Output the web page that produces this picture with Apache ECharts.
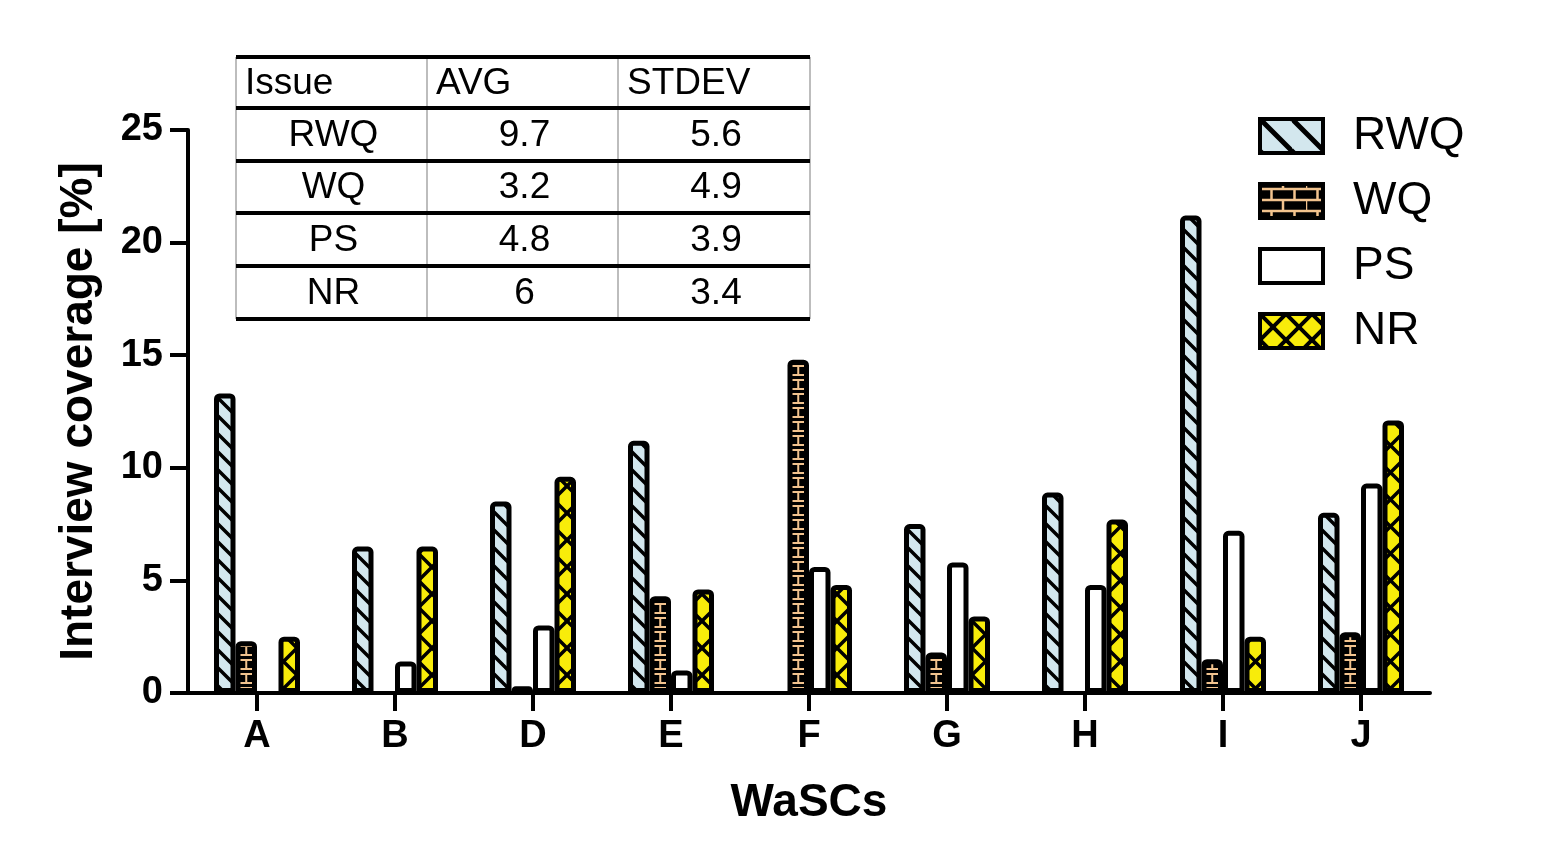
<!DOCTYPE html>
<html>
<head>
<meta charset="utf-8">
<script src="https://cdn.jsdelivr.net/npm/echarts@6/dist/echarts.min.js"></script>
<style>
html,body{margin:0;padding:0;background:#fff;}
#chart{width:1547px;height:862px;}
</style>
</head>
<body>
<div id="chart"></div>
<script>
// ---------- data ----------
const categories = ['A', 'B', 'D', 'E', 'F', 'G', 'H', 'I', 'J'];
const seriesNames = ['RWQ', 'WQ', 'PS', 'NR'];
const rwq = [13.3, 6.5, 8.5, 11.2, 0, 7.5, 8.9, 21.2, 8.0];
const wq  = [2.3, 0, 0.3, 4.3, 14.8, 1.8, 0, 1.5, 2.7];
const ps  = [0, 1.4, 3.0, 1.0, 5.6, 5.8, 4.8, 7.2, 9.3];
const nr  = [2.5, 6.5, 9.6, 4.6, 4.8, 3.4, 7.7, 2.5, 12.1];
const yTicks = [0, 5, 10, 15, 20, 25];

const tableHeader = ['Issue', 'AVG', 'STDEV'];
const tableIssues = ['RWQ', 'WQ', 'PS', 'NR'];
const tableAvg = ['9.7', '3.2', '4.8', '6'];
const tableStdev = ['5.6', '4.9', '3.9', '3.4'];

// ---------- layout ----------
const W = 1547, H = 862;
const FONT = '"Liberation Sans", Arial, Helvetica, sans-serif';
const GRID_LEFT = 188, GRID_RIGHT = 117, GRID_TOP = 130, GRID_BOTTOM = 169;
const BAR_W = 21.5, BAR_GAP = 0;
const TICK_LEN = 18;

// ---------- patterns ----------
function tile(w, h, draw) {
  const c = document.createElement('canvas');
  c.width = w; c.height = h;
  const ctx = c.getContext('2d');
  draw(ctx, w, h);
  return { image: c, repeat: 'repeat' };
}
function diag(ctx, s, dir) {
  ctx.beginPath();
  for (const k of [-1, 0, 1]) {
    if (dir === 'back') { ctx.moveTo(-1, k * s - 1); ctx.lineTo(s + 1, k * s + s + 1); }
    else { ctx.moveTo(-1, k * s + s + 1); ctx.lineTo(s + 1, k * s - 1); }
  }
  ctx.stroke();
}
function stripePattern(s, lw, bg) {
  return tile(s, s, (ctx) => {
    ctx.fillStyle = bg; ctx.fillRect(0, 0, s, s);
    ctx.strokeStyle = '#000'; ctx.lineWidth = lw; diag(ctx, s, 'back');
  });
}
function crossPattern(s, lw, bg) {
  return tile(s, s, (ctx) => {
    ctx.fillStyle = bg; ctx.fillRect(0, 0, s, s);
    ctx.strokeStyle = '#000'; ctx.lineWidth = lw;
    diag(ctx, s, 'back'); diag(ctx, s, 'fwd');
  });
}
const TAN = '#f2c38e';
const band = (W - GRID_LEFT - GRID_RIGHT) / categories.length;
const totalBars = 4 * BAR_W + 3 * BAR_W * BAR_GAP;
const wqCenter = GRID_LEFT + band / 2 - totalBars / 2 + BAR_W * (1 + BAR_GAP) + BAR_W / 2;
const stemX = ((wqCenter % band) + band) % band;
const wqBarPattern = tile(Math.round(band), 14, (ctx, w, h) => {
  ctx.fillStyle = '#000'; ctx.fillRect(0, 0, w, h);
  ctx.strokeStyle = TAN; ctx.lineWidth = 2;
  ctx.beginPath();
  ctx.moveTo(0, 2); ctx.lineTo(w, 2);
  ctx.moveTo(0, 11); ctx.lineTo(w, 11);
  ctx.moveTo(stemX, 2); ctx.lineTo(stemX, 11);
  ctx.stroke();
});
const wqLegendPattern = tile(46, 22, (ctx, w, h) => {
  ctx.fillStyle = '#000'; ctx.fillRect(0, 0, w, h);
  ctx.strokeStyle = TAN; ctx.lineWidth = 2.5;
  ctx.beginPath();
  ctx.moveTo(0, 5); ctx.lineTo(w, 5);
  ctx.moveTo(0, 16); ctx.lineTo(w, 16);
  ctx.moveTo(11.5, 5); ctx.lineTo(11.5, 16);
  ctx.moveTo(34.5, 5); ctx.lineTo(34.5, 16);
  ctx.moveTo(0, 16); ctx.lineTo(0, 27);
  ctx.moveTo(23, 16); ctx.lineTo(23, 27);
  ctx.moveTo(0, -6); ctx.lineTo(0, 5);
  ctx.moveTo(23, -6); ctx.lineTo(23, 5);
  ctx.stroke();
});
const BLUE = '#d3e7ee', YELLOW = '#f8ec0a';
const barColors = [stripePattern(18, 3.5, BLUE), wqBarPattern, '#ffffff', crossPattern(27, 3.5, YELLOW)];
const legendColors = [stripePattern(32, 5, BLUE), wqLegendPattern, '#ffffff', crossPattern(26, 4, YELLOW)];
const values = [rwq, wq, ps, nr];

// ---------- table graphic ----------
const tblX = [236, 427, 618, 810];
const tblY = [57, 108, 161, 213, 266, 319];
const tblFont = '37px ' + FONT;
const graphics = [];
for (let i = 0; i < tblX.length; i++) {
  graphics.push({ type: 'line', z: 10, shape: { x1: tblX[i], y1: tblY[0], x2: tblX[i], y2: tblY[tblY.length - 1] },
    style: { stroke: '#bdbdbd', lineWidth: 2 } });
}
for (let j = 0; j < tblY.length; j++) {
  graphics.push({ type: 'line', z: 11, shape: { x1: tblX[0], y1: tblY[j], x2: tblX[3], y2: tblY[j] },
    style: { stroke: '#000', lineWidth: 4 } });
}
tableHeader.forEach((t, i) => {
  graphics.push({ type: 'text', z: 12, style: { text: t, x: tblX[i] + 9, y: (tblY[0] + tblY[1]) / 2 + 1,
    font: tblFont, fill: '#000', align: 'left', verticalAlign: 'middle', textAlign: 'left', textVerticalAlign: 'middle' } });
});
const cols = [tableIssues, tableAvg, tableStdev];
for (let r = 0; r < tableIssues.length; r++) {
  for (let c = 0; c < 3; c++) {
    graphics.push({ type: 'text', z: 12, style: { text: cols[c][r], x: (tblX[c] + tblX[c + 1]) / 2 + 2,
      y: (tblY[r + 1] + tblY[r + 2]) / 2 + 1, font: tblFont, fill: '#000',
      align: 'center', verticalAlign: 'middle', textAlign: 'center', textVerticalAlign: 'middle' } });
  }
}
const axisY = H - GRID_BOTTOM;
// short extension of the x axis line to the left of the y axis (as in the reference)
graphics.push({ type: 'line', z: 5, shape: { x1: 170, y1: axisY, x2: GRID_LEFT, y2: axisY },
  style: { stroke: '#000', lineWidth: 4 } });

// ---------- chart ----------
const chart = echarts.init(document.getElementById('chart'), null, { renderer: 'canvas' });
const barSeries = seriesNames.map((n, i) => ({
  name: n, type: 'bar',
  data: values[i].map(v => (v === 0 ? null : v)),
  barWidth: BAR_W, barGap: (BAR_GAP * 100) + '%',
  itemStyle: { color: barColors[i], borderColor: '#000', borderWidth: 5, borderRadius: [3, 3, 0, 0] },
  emphasis: { disabled: true }
}));
// category tick marks hanging below the x axis, placed by the category scale
const tickSeries = {
  name: 'xticks', type: 'scatter', silent: true, clip: false, z: 50,
  data: categories.map(c => [c, 0]),
  symbol: 'rect', symbolSize: [4, TICK_LEN], symbolOffset: [0, TICK_LEN / 2],
  itemStyle: { color: '#000', opacity: 1 },
  emphasis: { disabled: true }, tooltip: { show: false }
};
const option = {
  backgroundColor: '#ffffff',
  animation: false,
  textStyle: { fontFamily: FONT },
  grid: { left: GRID_LEFT, right: GRID_RIGHT, top: GRID_TOP, bottom: GRID_BOTTOM, containLabel: false },
  legend: {
    orient: 'vertical', left: 1258, top: 113, padding: 0,
    itemWidth: 63, itemHeight: 34, itemGap: 19, icon: 'rect',
    itemStyle: { borderColor: '#000', borderWidth: 4 },
    textStyle: { fontSize: 46, color: '#000', fontFamily: FONT, padding: [0, 0, 0, 25] },
    data: seriesNames.map((n, i) => ({ name: n, itemStyle: { color: legendColors[i], borderColor: '#000', borderWidth: 4 } }))
  },
  xAxis: {
    type: 'category', data: categories, position: 'bottom',
    name: 'WaSCs', nameLocation: 'middle', nameGap: 87,
    nameTextStyle: { fontSize: 46, fontWeight: 'bold', color: '#000', fontFamily: FONT },
    axisLine: { show: true, onZero: false, lineStyle: { color: '#000', width: 4 } },
    axisTick: { show: true, inside: false, alignWithLabel: true, interval: 0, length: TICK_LEN, lineStyle: { color: '#000', width: 4 } },
    axisLabel: { fontSize: 38, fontWeight: 'bold', color: '#000', margin: 25, fontFamily: FONT },
    splitLine: { show: false }
  },
  yAxis: {
    type: 'value', min: yTicks[0], max: yTicks[yTicks.length - 1], interval: yTicks[1] - yTicks[0],
    name: 'Interview coverage [%]', nameLocation: 'middle', nameGap: 86,
    nameTextStyle: { fontSize: 46, fontWeight: 'bold', color: '#000', fontFamily: FONT },
    axisLine: { show: true, lineStyle: { color: '#000', width: 4 } },
    axisTick: { show: true, length: TICK_LEN, lineStyle: { color: '#000', width: 4 } },
    axisLabel: { fontSize: 38, fontWeight: 'bold', color: '#000', margin: 25, fontFamily: FONT },
    splitLine: { show: false }
  },
  series: barSeries.concat([tickSeries]),
  graphic: graphics
};
chart.setOption(option);
</script>
</body>
</html>
